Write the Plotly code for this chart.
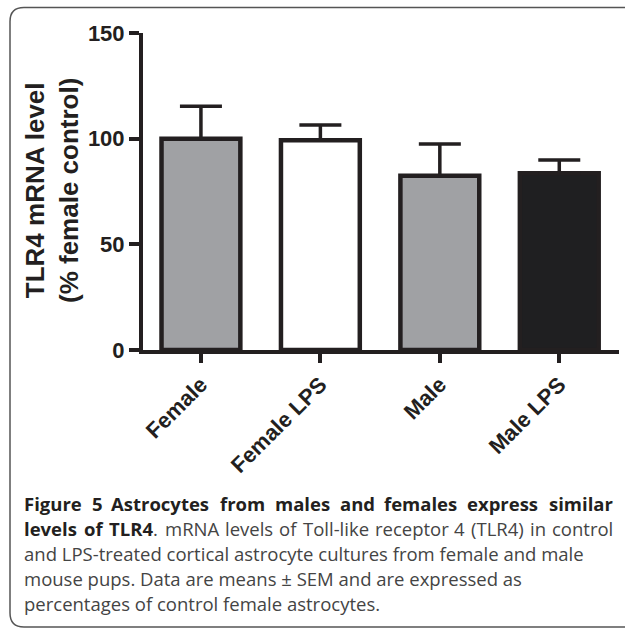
import plotly.graph_objects as go

categories = ["Female", "Female LPS", "Male", "Male LPS"]
means = [100.0, 99.2, 82.5, 83.6]
sem = [15.3, 7.3, 15.0, 6.3]
fill_colors = ["#a0a1a4", "#ffffff", "#a0a1a4", "#1f1f21"]
y_ticks = [0, 50, 100, 150]

caption_line1 = "Figure 5 Astrocytes from males and females express similar"
caption_line2_bold = "levels of TLR4"
caption_line2_rest = ". mRNA levels of Toll-like receptor 4 (TLR4) in control"
caption_rest = [
    "and LPS-treated cortical astrocyte cultures from female and male",
    "mouse pups. Data are means ± SEM and are expressed as",
    "percentages of control female astrocytes.",
]

W, H = 625, 630
L, R, T, B = 143, 6, 33, 280
PW, PH = W - L - R, H - T - B

def px(x):
    return (x - L) / PW

def py(y):
    return (H - B - y) / PH

INK = "#231f20"

fig = go.Figure()
fig.add_trace(go.Bar(
    x=list(range(len(categories))),
    y=means,
    width=0.66,
    marker=dict(color=fill_colors, line=dict(color=INK, width=4.5)),
    error_y=dict(type="data", symmetric=False, array=sem,
                 arrayminus=[0] * len(sem), color=INK, thickness=3.5, width=21),
    showlegend=False,
))

fig.update_layout(
    width=W, height=H,
    margin=dict(l=L, r=R, t=T, b=B, pad=0),
    paper_bgcolor="white", plot_bgcolor="white",
    font=dict(family="Liberation Sans, Arial, sans-serif", color=INK),
    bargap=0.3,
)
fig.update_xaxes(
    range=[-0.485, 3.5],
    tickmode="array", tickvals=list(range(len(categories))), ticktext=categories,
    tickangle=-45,
    tickfont=dict(size=22, family="Liberation Sans, Arial, sans-serif", weight="bold"),
    showline=True, linecolor=INK, linewidth=4,
    ticks="outside", ticklen=9, tickwidth=4, tickcolor=INK,
    showgrid=False, zeroline=False,
)
fig.update_yaxes(
    range=[0, 150],
    tickmode="array", tickvals=y_ticks, ticktext=[str(v) for v in y_ticks],
    tickfont=dict(size=22, family="Liberation Sans, Arial, sans-serif", weight="bold"),
    showline=True, linecolor=INK, linewidth=4,
    ticks="outside", ticklen=10, tickwidth=4, tickcolor=INK,
    showgrid=False, zeroline=False,
)

# y-axis title
fig.add_annotation(
    text="<b>TLR4 mRNA level</b><br><b>(% female control)</b>",
    xref="paper", yref="paper", x=px(52), y=py(191),
    xanchor="center", yanchor="middle", textangle=-90, showarrow=False,
    font=dict(size=26, family="Liberation Sans, Arial, sans-serif", color=INK),
)

# rounded frame
x0, x1 = 10, 660
y0, y1 = 7.5, 627
r = 14
path = (
    f"M {px(x0 + r)} {py(y0)} L {px(x1)} {py(y0)} L {px(x1)} {py(y1)} "
    f"L {px(x0 + r)} {py(y1)} Q {px(x0)} {py(y1)} {px(x0)} {py(y1 - r)} "
    f"L {px(x0)} {py(y0 + r)} Q {px(x0)} {py(y0)} {px(x0 + r)} {py(y0)} Z"
)
fig.add_shape(type="path", path=path, xref="paper", yref="paper",
              line=dict(color="#555555", width=1.5), fillcolor="rgba(0,0,0,0)",
              layer="below")

# ---- caption (justified first two lines) ----
CAP_FONT = "Open Sans, Noto Sans, sans-serif"
BOLD_C = "#231f20"
REG_C = "#444444"
CAP_SIZE = 18.5
LEFT, RIGHT = 24, 613
PAD = 2

REG_W = {" ": .260, ".": .266, "-": .322, "(": .296, ")": .296, "±": .572,
         "A": .633, "B": .648, "C": .631, "D": .729, "E": .556, "F": .516, "G": .728,
         "H": .738, "I": .279, "L": .519, "M": .903, "N": .760, "O": .781, "P": .611,
         "R": .627, "S": .549, "T": .551,
         "a": .561, "b": .604, "c": .490, "d": .604, "e": .560, "f": .343, "g": .532,
         "h": .613, "i": .253, "k": .519, "l": .253, "m": .930, "n": .613, "o": .594,
         "p": .604, "r": .408, "s": .477, "t": .353, "u": .613, "v": .500, "x": .509,
         "y": .500}
BOLD_W = {" ": .260, "A": .690, "F": .575, "L": .574, "R": .681, "T": .583,
          "a": .607, "c": .527, "d": .650, "e": .600, "f": .416, "g": .575, "h": .665,
          "i": .300, "l": .300, "m": .983, "n": .665, "o": .630, "p": .650, "r": .468,
          "s": .511, "t": .440, "u": .665, "v": .584, "x": .583, "y": .583}

def width(s, table):
    return sum(table.get(ch, .572) for ch in s) * CAP_SIZE

def justify(words, ycen):
    # words: list of (html, plain_width)
    total = sum(w for _, w in words)
    gap = (RIGHT - LEFT - total) / (len(words) - 1)
    xcur = LEFT
    for html, w in words:
        fig.add_annotation(text=html, xref="paper", yref="paper",
                           x=px(xcur - PAD), y=py(ycen), xanchor="left",
                           yanchor="middle", showarrow=False,
                           font=dict(size=CAP_SIZE, family=CAP_FONT, color=REG_C))
        xcur += w + gap

w1 = [(f'<b><span style="color:{BOLD_C}">{wd}</span></b>', width(wd, BOLD_W))
      for wd in caption_line1.split(" ")]
justify(w1, 503.5)

w2 = []
bold_words = caption_line2_bold.split(" ")
rest_words = caption_line2_rest.split(" ")
# last bold word joins the leading "." of the regular part
for wd in bold_words[:-1]:
    w2.append((f'<b><span style="color:{BOLD_C}">{wd}</span></b>', width(wd, BOLD_W)))
w2.append((f'<b><span style="color:{BOLD_C}">{bold_words[-1]}</span></b>{rest_words[0]}',
           width(bold_words[-1], BOLD_W) + width(rest_words[0], REG_W)))
for wd in rest_words[1:]:
    w2.append((wd, width(wd, REG_W)))
justify(w2, 528.5)

for i, txt in enumerate(caption_rest):
    fig.add_annotation(text=txt, xref="paper", yref="paper",
                       x=px(LEFT - PAD), y=py(553.5 + 25 * i), xanchor="left",
                       yanchor="middle", showarrow=False,
                       font=dict(size=CAP_SIZE, family=CAP_FONT, color=REG_C))

fig.write_html("out.html", config={"displayModeBar": False},
               post_script="document.body.style.margin='0';document.body.style.overflow='hidden';")
